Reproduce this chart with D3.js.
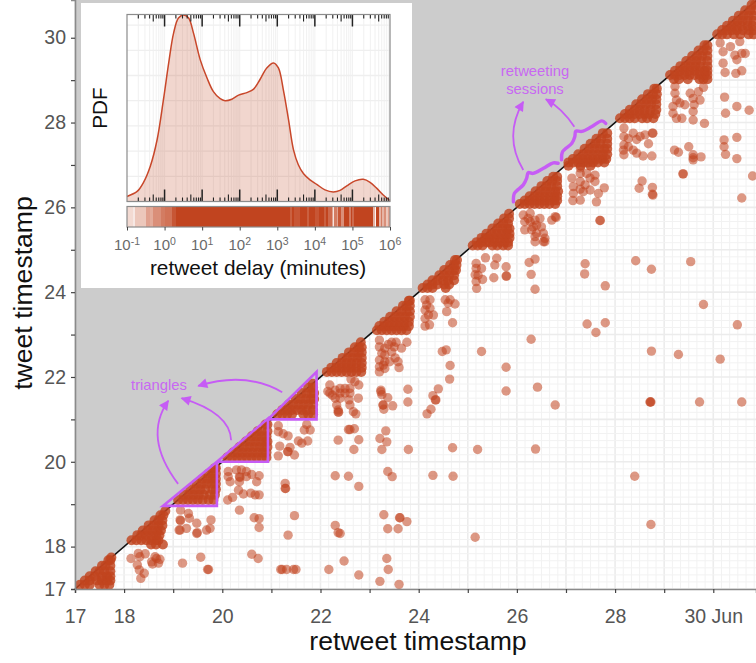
<!DOCTYPE html>
<html>
<head>
<meta charset="utf-8">
<script src="https://d3js.org/d3.v7.min.js"></script>
<style>
  html, body { margin: 0; padding: 0; background: #fff; }
  svg { display: block; font-family: "Liberation Sans", Arimo, Helvetica, sans-serif; }
</style>
</head>
<body>
<div id="chart-area"></div>
<script>
// tick labels
var dayTicks = [17, 18, 19, 20, 21, 22, 23, 24, 25, 26, 27, 28, 29, 30];
var dayLabels = ['17', '18', '', '20', '', '22', '', '24', '', '26', '', '28', '', '30 Jun'];
var dayLabelsY = ['17', '18', '', '20', '', '22', '', '24', '', '26', '', '28', '', '30'];
var decadeExponents = [-1, 0, 1, 2, 3, 4, 5, 6];

// each row: tweet timestamp, then the retweet timestamps of that tweet
var session17 = [[17.1, 17.1, 17.2, 17.3, 17.5, 17.6, 17.7], [17.2, 17.2, 17.3, 17.45, 17.55, 17.65, 17.72], [17.3, 17.3, 17.4, 17.55, 17.65, 17.72], [17.42, 17.42, 17.5, 17.6, 17.72], [17.55, 17.55, 17.62, 17.72], [17.68, 17.68, 17.72], [17.74, 17.74]];
var session18 = [[18.15, 18.15, 18.25, 18.35, 18.45, 18.55, 18.65, 18.7], [18.27, 18.27, 18.35, 18.45, 18.55, 18.65, 18.72], [18.38, 18.38, 18.48, 18.58, 18.68, 18.75], [18.5, 18.5, 18.6, 18.7, 18.78], [18.62, 18.62, 18.7, 18.78], [18.74, 18.74, 18.8], [18.84, 18.84], [18.05, 18.55, 18.65, 18.79]];
var session19 = [[19.1, 19.1, 19.2, 19.3, 19.4, 19.5, 19.6, 19.72, 19.82], [19.22, 19.22, 19.32, 19.42, 19.52, 19.62, 19.75, 19.85], [19.35, 19.35, 19.45, 19.55, 19.65, 19.8, 19.87], [19.48, 19.48, 19.58, 19.68, 19.78, 19.87], [19.6, 19.6, 19.7, 19.8, 19.87], [19.72, 19.72, 19.8, 19.87], [19.85, 19.85, 19.87]];
var session20 = [[20.1, 20.1, 20.2, 20.3, 20.4, 20.5, 20.6, 20.7, 20.8, 20.9], [20.22, 20.22, 20.32, 20.42, 20.52, 20.62, 20.72, 20.82, 20.9], [20.35, 20.35, 20.45, 20.55, 20.65, 20.75, 20.85, 20.92], [20.48, 20.48, 20.58, 20.68, 20.78, 20.88, 20.92], [20.6, 20.6, 20.7, 20.8, 20.9], [20.72, 20.72, 20.8, 20.92], [20.88, 20.88, 20.92]];
var session21 = [[21.12, 21.12, 21.22, 21.32, 21.42, 21.65, 21.75, 21.85], [21.22, 21.22, 21.32, 21.42, 21.52, 21.62, 21.72, 21.85], [21.35, 21.35, 21.45, 21.55, 21.65, 21.75, 21.85], [21.48, 21.5, 21.6, 21.7, 21.8, 21.87], [21.62, 21.62, 21.72, 21.82, 21.87], [21.75, 21.75, 21.85], [21.84, 21.84]];
var session22 = [[22.12, 22.13, 22.23, 22.33, 22.43, 22.53, 22.63, 22.73, 22.83], [22.22, 22.22, 22.32, 22.42, 22.52, 22.62, 22.72, 22.84], [22.33, 22.33, 22.43, 22.53, 22.63, 22.73, 22.84], [22.45, 22.45, 22.55, 22.65, 22.75, 22.84], [22.58, 22.58, 22.68, 22.78, 22.84], [22.7, 22.7, 22.78, 22.84], [22.82, 22.82]];
var session23 = [[23.1, 23.15, 23.25, 23.35, 23.45, 23.55, 23.65, 23.75], [23.2, 23.2, 23.3, 23.4, 23.5, 23.6, 23.7, 23.8], [23.3, 23.3, 23.4, 23.5, 23.6, 23.7, 23.8], [23.42, 23.42, 23.52, 23.62, 23.72, 23.82], [23.55, 23.55, 23.65, 23.75, 23.82], [23.68, 23.68, 23.75, 23.82], [23.8, 23.8, 23.82]];
var session24 = [[24.1, 24.08, 24.18, 24.28, 24.55], [24.18, 24.18, 24.28, 24.38, 24.52, 24.62], [24.28, 24.28, 24.38, 24.5, 24.6, 24.72], [24.4, 24.42, 24.52, 24.62, 24.72], [24.52, 24.52, 24.62, 24.72, 24.76], [24.64, 24.64, 24.72, 24.77], [24.76, 24.74, 24.78]];
var session25 = [[25.1, 25.1, 25.2, 25.3, 25.5, 25.6, 25.72, 25.82], [25.18, 25.18, 25.28, 25.38, 25.45, 25.55, 25.65, 25.75, 25.82], [25.28, 25.28, 25.36, 25.45, 25.55, 25.65, 25.75, 25.85], [25.38, 25.38, 25.48, 25.58, 25.68, 25.78, 25.85], [25.5, 25.5, 25.6, 25.7, 25.8, 25.85], [25.62, 25.62, 25.72, 25.82], [25.74, 25.74, 25.84], [25.85, 25.84]];
var session26 = [[26.08, 26.06, 26.16, 26.26, 26.36, 26.46, 26.56, 26.66, 26.78], [26.16, 26.16, 26.26, 26.36, 26.46, 26.56, 26.66, 26.76, 26.82], [26.26, 26.26, 26.36, 26.46, 26.56, 26.66, 26.76, 26.82], [26.38, 26.38, 26.48, 26.58, 26.68, 26.78, 26.84], [26.5, 26.5, 26.6, 26.7, 26.82], [26.62, 26.62, 26.72, 26.82], [26.72, 26.74, 26.82]];
var session27 = [[26.98, 27.05, 27.3, 27.5], [27.06, 27.05, 27.15, 27.25, 27.35, 27.45, 27.55, 27.65, 27.78], [27.14, 27.14, 27.24, 27.34, 27.44, 27.54, 27.64, 27.74, 27.82], [27.25, 27.25, 27.35, 27.45, 27.55, 27.65, 27.75, 27.84], [27.38, 27.38, 27.48, 27.58, 27.68, 27.78, 27.84], [27.5, 27.5, 27.6, 27.7, 27.84], [27.62, 27.62, 27.72, 27.84], [27.75, 27.75, 27.84]];
var session28 = [[28.1, 28.1, 28.2, 28.3, 28.4, 28.55, 28.65, 28.78], [28.2, 28.2, 28.3, 28.4, 28.5, 28.6, 28.7, 28.82], [28.3, 28.3, 28.4, 28.5, 28.6, 28.72, 28.84], [28.43, 28.43, 28.53, 28.63, 28.73, 28.84], [28.55, 28.55, 28.65, 28.75, 28.84], [28.67, 28.67, 28.77, 28.85], [28.8, 28.8, 28.85]];
var session29 = [[29.02, 29.2, 29.3, 29.48, 29.72, 29.8, 29.88], [29.12, 29.12, 29.22, 29.32, 29.42, 29.52, 29.62, 29.72, 29.82, 29.88], [29.22, 29.22, 29.32, 29.42, 29.52, 29.62, 29.72, 29.82, 29.88], [29.33, 29.33, 29.43, 29.53, 29.63, 29.73, 29.88], [29.45, 29.45, 29.55, 29.65, 29.75, 29.88], [29.57, 29.57, 29.67, 29.77, 29.88], [29.7, 29.7, 29.8, 29.88], [29.82, 29.82, 29.88]];
var session30 = [[30.08, 30.08, 30.18, 30.28, 30.42, 30.55, 30.72, 30.82], [30.18, 30.18, 30.28, 30.38, 30.48, 30.6, 30.72, 30.82], [30.28, 30.28, 30.38, 30.48, 30.58, 30.7, 30.8], [30.4, 30.4, 30.5, 30.6, 30.7, 30.82], [30.52, 30.52, 30.62, 30.72, 30.82], [30.65, 30.65, 30.75, 30.85], [30.78, 30.78, 30.85]];

// [retweet timestamp, tweet timestamp] for the retweets far from their tweet
var lateRetweets = [
  [18.14, 17.72], [18.29, 17.84], [18.32, 17.76], [18.43, 17.83], [18.27, 17.57], [18.31, 17.45], [18.41, 17.37], [18.34, 17.25], [18.56, 17.64], [18.66, 17.72], [18.73, 17.7], [18.7, 17.61], [18.58, 17.59], [18.63, 17.76],
  [19.19, 17.61], [19.56, 17.75], [19.7, 17.46], [19.72, 17.46], [20.6, 17.82], [20.73, 17.72], [21.19, 17.46], [21.22, 17.46], [21.31, 17.46], [21.45, 17.46], [21.5, 17.46], [22.17, 17.46], [22.48, 17.66], [22.78, 17.33], [23.35, 17.72], [23.38, 17.46], [23.21, 17.18], [23.6, 17.11],
  [19.15, 18.86], [19.14, 18.63], [19.15, 18.61], [19.12, 18.39], [19.14, 18.39], [19.31, 18.78], [19.33, 18.67], [19.48, 18.55], [19.48, 18.31], [19.49, 18.33], [19.27, 18.43], [19.68, 18.39], [19.75, 18.43], [19.77, 18.63],
  [20.35, 18.86], [20.65, 18.68], [20.75, 18.66], [20.75, 18.45], [21.47, 18.73], [21.34, 18.27], [22.3, 18.5], [22.36, 18.33], [22.4, 18.31], [23.29, 18.75], [23.61, 18.68], [23.62, 18.68], [23.76, 18.59], [23.37, 18.42], [23.58, 18.42], [25.15, 18.22], [28.73, 18.52],
  [20.12, 19.77], [20.12, 19.65], [20.16, 19.53], [20.29, 19.81], [20.39, 19.81], [20.49, 19.77], [20.35, 19.65], [20.36, 19.63], [20.49, 19.65], [20.6, 19.7], [20.75, 19.67], [20.7, 19.53], [20.35, 19.53], [20.33, 19.33], [20.43, 19.24], [20.58, 19.26], [20.67, 19.22], [20.75, 19.22], [20.21, 19.16], [20.11, 19.1],
  [21.28, 19.49], [21.28, 19.37], [21.29, 19.37], [22.3, 19.67], [22.57, 19.66], [22.78, 19.42], [23.37, 19.77], [23.46, 19.65], [24.29, 19.68], [24.7, 19.66], [28.4, 19.66],
  [21.14, 20.85], [21.14, 20.71], [21.24, 20.66], [21.34, 20.61], [21.17, 20.37], [21.14, 20.14], [21.38, 20.34], [21.33, 20.24], [21.34, 20.24], [21.47, 20.16], [21.55, 20.49], [21.62, 20.44], [21.74, 20.49], [21.67, 20.75], [21.79, 20.75], [21.72, 20.88],
  [22.36, 20.51], [22.78, 20.52], [23.21, 20.55], [23.35, 20.47], [23.33, 20.73], [22.57, 20.76], [22.6, 20.76], [22.69, 20.78], [22.68, 20.29], [23.25, 20.29], [23.79, 20.29], [24.69, 20.33], [25.2, 20.29], [26.38, 20.3],
  [22.19, 21.81], [22.19, 21.62], [22.3, 21.69], [22.4, 21.73], [22.5, 21.73], [22.6, 21.73], [22.4, 21.62], [22.5, 21.62], [22.6, 21.62], [22.3, 21.5], [22.4, 21.5], [22.58, 21.46], [22.33, 21.34], [22.36, 21.22], [22.36, 21.17], [22.37, 21.17], [22.6, 21.34], [22.67, 21.18], [22.72, 21.13], [22.77, 21.5], [22.78, 21.81], [22.7, 21.89], [22.62, 21.95], [22.24, 21.57], [22.15, 21.66],
  [23.23, 21.69], [23.23, 21.65], [23.25, 21.58], [23.37, 21.51], [23.27, 21.34], [23.28, 21.34], [23.29, 21.24], [23.47, 21.32], [23.78, 21.71], [23.78, 21.41], [24.29, 21.56], [24.34, 21.46], [24.35, 21.46], [24.4, 21.72], [24.25, 21.24], [24.17, 21.13], [24.63, 21.95], [25.78, 21.67], [26.42, 21.76], [26.78, 21.34], [28.71, 21.41], [28.72, 21.41], [28.73, 21.41], [29.72, 21.41], [30.58, 21.41],
  [23.2, 22.87], [23.2, 22.71], [23.25, 22.56], [23.2, 22.4], [23.2, 22.24], [23.2, 22.12], [23.31, 22.2], [23.31, 22.36], [23.31, 22.68], [23.45, 22.82], [23.54, 22.82], [23.5, 22.71], [23.65, 22.68], [23.76, 22.82], [23.45, 22.59], [23.52, 22.45], [23.58, 22.36], [23.6, 22.22], [23.41, 22.36], [23.38, 22.77], [23.31, 22.52], [23.28, 22.28],
  [24.48, 22.6], [24.56, 22.64], [25.28, 22.6], [24.64, 22.27], [25.78, 22.23], [26.29, 22.89], [28.74, 22.61], [29.29, 22.53], [30.14, 22.42],
  [24.13, 23.82], [24.23, 23.82], [24.16, 23.7], [24.23, 23.62], [24.13, 23.58], [24.2, 23.46], [24.13, 23.38], [24.3, 23.46], [24.13, 23.2], [24.22, 23.23], [24.54, 23.82], [24.64, 23.82], [24.6, 23.74], [24.74, 23.72], [24.57, 23.54], [24.69, 23.28], [27.43, 23.25], [27.8, 23.28], [27.61, 23.05], [29.8, 23.71], [30.49, 23.23],
  [25.17, 24.68], [25.17, 24.56], [25.15, 24.41], [25.17, 24.25], [25.18, 24.09], [25.28, 24.56], [25.3, 24.3], [25.36, 24.81], [25.59, 24.8], [25.55, 24.64], [25.53, 24.34], [25.78, 24.6], [25.78, 24.38], [25.79, 24.38], [25.21, 24.4],
  [26.25, 24.7], [26.37, 24.78], [26.29, 24.42], [26.37, 24.07], [27.39, 24.67], [27.38, 24.43], [27.8, 24.15], [28.42, 24.74], [28.74, 24.54], [29.54, 24.72],
  [26.13, 25.82], [26.27, 25.86], [26.16, 25.66], [26.16, 25.47], [26.27, 25.66], [26.37, 25.7], [26.47, 25.74], [26.4, 25.58], [26.5, 25.54], [26.3, 25.47], [26.4, 25.39], [26.54, 25.39], [26.37, 25.19], [26.54, 25.19], [26.78, 25.78], [26.8, 25.76], [26.71, 25.7], [26.23, 25.74], [26.33, 25.54], [26.57, 25.27], [26.37, 25.31], [26.57, 25.19],
  [27.69, 25.69], [27.7, 25.69],
  [27.29, 26.8], [27.12, 26.69], [27.59, 26.76], [27.49, 26.69], [27.59, 26.61], [27.29, 26.61], [27.39, 26.53], [27.15, 26.49], [27.15, 26.33], [27.14, 26.16], [27.29, 26.17], [27.35, 26.37], [27.49, 26.41], [27.66, 26.33], [27.62, 26.13], [27.78, 26.46], [27.42, 26.8], [27.29, 26.43], [27.29, 26.93],
  [28.49, 26.45], [28.55, 26.62], [28.76, 26.47], [28.76, 26.31], [28.77, 26.29], [29.38, 26.79], [29.39, 26.79], [30.8, 26.74], [30.58, 26.22],
  [28.18, 27.87], [28.18, 27.67], [28.18, 27.47], [28.18, 27.24], [28.27, 27.43], [28.37, 27.75], [28.51, 27.67], [28.61, 27.71], [28.76, 27.75], [28.77, 27.75], [28.68, 27.5], [28.37, 27.35], [28.44, 27.28], [28.57, 27.21], [28.75, 27.21], [28.27, 27.62], [28.44, 27.6], [28.17, 27.35],
  [29.21, 27.35], [29.29, 27.3], [29.5, 27.43], [29.59, 27.24], [29.59, 27.17], [29.59, 27.12], [29.75, 27.19], [30.22, 27.59], [30.22, 27.43], [30.25, 27.25], [30.48, 27.65], [30.48, 27.15],
  [29.22, 28.85], [29.22, 28.69], [29.25, 28.53], [29.18, 28.38], [29.18, 28.22], [29.25, 28.1], [29.36, 28.1], [29.42, 28.42], [29.53, 28.69], [29.59, 28.57], [29.61, 28.42], [29.59, 28.26], [29.59, 28.06], [29.8, 28.83], [29.73, 28.53], [29.82, 27.98], [29.7, 28.73], [29.32, 28.46],
  [30.23, 28.6], [30.25, 28.22], [30.48, 28.38], [30.73, 28.29],
  [30.14, 29.88], [30.2, 29.67], [30.2, 29.4], [30.24, 29.18], [30.35, 29.79], [30.44, 29.59], [30.48, 29.48], [30.58, 29.63], [30.65, 29.63], [30.58, 29.22], [30.46, 29.16], [30.54, 29.91]
];

// retweet delay density, log10(minutes) and PDF
var delayLog = [-1, -0.73, -0.56, -0.38, -0.2, -0.03, 0.11, 0.24, 0.37, 0.51, 0.64, 0.77, 0.95, 1.13, 1.3, 1.48, 1.61, 1.79, 1.97, 2.19, 2.37, 2.54, 2.72, 2.9, 3.03, 3.16, 3.3, 3.43, 3.56, 3.7, 3.87, 4.05, 4.27, 4.49, 4.67, 4.85, 5.07, 5.29, 5.47, 5.65, 5.82, 6];
var delayPdf = [0.01, 0.02, 0.038, 0.07, 0.122, 0.202, 0.275, 0.334, 0.364, 0.37, 0.364, 0.334, 0.281, 0.245, 0.218, 0.204, 0.2, 0.203, 0.211, 0.216, 0.223, 0.242, 0.265, 0.275, 0.265, 0.222, 0.162, 0.103, 0.073, 0.055, 0.043, 0.034, 0.023, 0.019, 0.022, 0.031, 0.041, 0.044, 0.038, 0.026, 0.013, 0.002];

// rug strip under the density: band start (log10 minutes) and its strength
var rugStart = [-1, -0.85, -0.78, -0.6, -0.5, -0.4, -0.3, -0.1, 0, 0.2, 0.3, 3.35, 3.4, 3.45, 3.6, 3.8, 3.85, 4, 4.1, 4.25, 4.3, 4.35, 4.45, 4.48, 4.5, 4.58, 4.62, 4.7, 4.78, 4.9, 4.95, 5, 5.05, 5.55, 5.6, 5.63, 5.7, 5.75, 5.8, 5.85, 5.9, 5.95];
var rugAlpha = [0.2, 0.12, 0.3, 0.3, 0.5, 0.45, 0.6, 0.7, 0.75, 0.9, 1, 0.85, 1, 0.9, 1, 0.85, 1, 0.9, 1, 0.85, 1, 0.8, 0.5, 0.15, 0.7, 0.5, 0.9, 0.6, 1, 0.7, 1, 0.8, 1, 0.4, 0.05, 1, 0.4, 0.7, 0.4, 0.6, 0.3, 0.5];

// annotations, in [retweet day, tweet day]
var triangleLeft = [18.79, 19.89, 20.93];
var triangleRight = [19.89, 20.93, 21.92];
var triangleBottom = [18.96, 20, 21];
var triangleTop = [20, 21.02, 22.12];
var triangleArrows = [
  [[19.1, 19.48], [18.38, 20.58], [18.9, 21.44]],
  [[20.18, 20.51], [20.16, 21.15], [19.17, 21.5]],
  [[21.22, 21.64], [20.48, 22.14], [19.51, 21.79]]
];
var sessionArrows = [
  [[26.13, 26.88], [25.72, 27.68], [26.13, 28.49]],
  [[27.17, 27.9], [26.92, 28.34], [26.59, 28.55]]
];
var braceA = [[25.93, 26.13], [25.95, 26.33], [26.13, 26.53], [26.2, 26.69], [26.23, 26.82], [26.33, 26.8], [26.54, 26.92], [26.74, 27.05], [26.84, 27.04]];
var braceB = [[26.91, 27.12], [26.93, 27.31], [27.12, 27.51], [27.18, 27.67], [27.2, 27.8], [27.32, 27.79], [27.52, 27.9], [27.73, 28.04], [27.81, 27.98]];

var sessions = [session17, session18, session19, session20, session21, session22, session23, session24, session25, session26, session27, session28, session29, session30];

var red = '#c1441f';
var purple = '#c65cf5';
var purpleText = '#c868f2';

var margin = { left: 75, right: 0, top: 0, bottom: 74 };
var width = 756 - margin.left - margin.right;
var height = 663 - margin.top - margin.bottom;

var svg = d3.select('#chart-area')
  .append('svg')
    .attr('width', 756)
    .attr('height', 663);

var defs = svg.append('defs');
defs.append('clipPath').attr('id', 'panel-clip')
  .append('rect').attr('width', width).attr('height', height);
defs.append('marker')
    .attr('id', 'head')
    .attr('viewBox', '0 0 10 10')
    .attr('refX', 9)
    .attr('refY', 5)
    .attr('markerUnits', 'userSpaceOnUse')
    .attr('markerWidth', 11)
    .attr('markerHeight', 10)
    .attr('orient', 'auto')
  .append('path')
    .attr('d', 'M0,0L10,5L0,10Z')
    .attr('fill', purple);

var area = svg.append('g')
  .attr('transform', 'translate(' + margin.left + ', ' + margin.top + ')');

// X Scale
var x = d3.scaleLinear().domain([17, 30.87]).range([0, width]);
// Y Scale
var y = d3.scaleLinear().domain([17, 30.89]).range([height, 0]);

// 4 hour grid, heavier each day
var fineX = d3.range(17, 31, 1 / 6);
var fineY = d3.range(17, 31, 1 / 6);

area.selectAll('.grid-x').data(fineX).enter().append('line')
  .attr('class', 'grid-x')
  .attr('x1', function(d) { return x(d); })
  .attr('x2', function(d) { return x(d); })
  .attr('y1', 0)
  .attr('y2', height)
  .attr('stroke', function(d, i) { return i % 6 === 0 ? '#ececec' : '#f2f2f2'; })
  .attr('stroke-width', function(d, i) { return i % 6 === 0 ? 1.6 : 1; });

area.selectAll('.grid-y').data(fineY).enter().append('line')
  .attr('class', 'grid-y')
  .attr('x1', 0)
  .attr('x2', width)
  .attr('y1', function(d) { return y(d); })
  .attr('y2', function(d) { return y(d); })
  .attr('stroke', function(d, i) { return i % 6 === 0 ? '#ececec' : '#f2f2f2'; })
  .attr('stroke-width', function(d, i) { return i % 6 === 0 ? 1.6 : 1; });

// grey half above the diagonal
area.append('path')
  .attr('d', 'M' + x(17) + ',' + y(17) + 'L' + x(30.87) + ',' + y(30.87) + 'L' + x(30.87) + ',0L' + x(17) + ',0Z')
  .attr('fill', '#cccccc');

area.append('line')
  .attr('x1', x(17)).attr('y1', y(17))
  .attr('x2', x(30.87)).attr('y2', y(30.87))
  .attr('stroke', '#111')
  .attr('stroke-width', 1.6);

// points
var points = [];
sessions.forEach(function(rows) {
  rows.forEach(function(row) {
    row.slice(1).forEach(function(rt) { points.push([rt, row[0]]); });
  });
});

var pointLayer = area.append('g').attr('clip-path', 'url(#panel-clip)');

pointLayer.selectAll('.session-dot')
  .data(points)
  .enter().append('circle')
    .attr('class', 'session-dot')
    .attr('cx', function(d) { return x(d[0]); })
    .attr('cy', function(d) { return y(d[1]); })
    .attr('r', 5)
    .attr('fill', red)
    .attr('fill-opacity', 0.82);

pointLayer.selectAll('.late-dot')
  .data(lateRetweets)
  .enter().append('circle')
    .attr('class', 'late-dot')
    .attr('cx', function(d) { return x(d[0]); })
    .attr('cy', function(d) { return y(d[1]); })
    .attr('r', 4.7)
    .attr('fill', red)
    .attr('fill-opacity', 0.55);

// axes
function styleAxis(g) {
  g.select('.domain').attr('stroke', '#8a8a8a').attr('stroke-width', 1.6);
  g.selectAll('.tick line').attr('stroke', '#444').attr('stroke-width', 1.2);
  g.selectAll('.tick text')
    .attr('fill', '#555')
    .attr('font-size', '19.5px')
    .attr('font-family', '"Liberation Sans", sans-serif');
}

var xAxisCall = d3.axisBottom(x)
  .tickValues(dayTicks)
  .tickSizeOuter(0)
  .tickSize(4)
  .tickPadding(16)
  .tickFormat(function(d, i) { return dayLabels[i]; });
area.append('g')
  .attr('transform', 'translate(0, ' + height + ')')
  .call(xAxisCall)
  .call(styleAxis);

var yAxisCall = d3.axisLeft(y)
  .tickValues(dayTicks)
  .tickSizeOuter(0)
  .tickSize(4)
  .tickPadding(5)
  .tickFormat(function(d, i) { return dayLabelsY[i]; });
area.append('g')
  .call(yAxisCall)
  .call(styleAxis);

svg.append('text')
  .attr('x', 418)
  .attr('y', 650)
  .attr('text-anchor', 'middle')
  .attr('font-size', '26.6px')
  .attr('fill', '#111')
  .text('retweet timestamp');

svg.append('text')
  .attr('transform', 'translate(32, 293) rotate(-90)')
  .attr('text-anchor', 'middle')
  .attr('font-size', '26.6px')
  .attr('fill', '#111')
  .text('tweet timestamp');

// annotations
var annotations = area.append('g').attr('fill', 'none');

var trianglePath = d3.path();
triangleLeft.forEach(function(d, i) {
  trianglePath.moveTo(x(d), y(triangleBottom[i]));
  trianglePath.lineTo(x(triangleRight[i]), y(triangleTop[i]));
  trianglePath.lineTo(x(triangleRight[i]), y(triangleBottom[i]));
  trianglePath.closePath();
});
annotations.append('path')
  .attr('d', trianglePath.toString())
  .attr('stroke', purple)
  .attr('stroke-width', 2.6)
  .attr('stroke-linejoin', 'miter');

annotations.selectAll('.arrow')
  .data(triangleArrows.concat(sessionArrows))
  .enter().append('path')
    .attr('class', 'arrow')
    .attr('d', function(d) {
      var p = d3.path();
      p.moveTo(x(d[0][0]), y(d[0][1]));
      p.quadraticCurveTo(x(d[1][0]), y(d[1][1]), x(d[2][0]), y(d[2][1]));
      return p.toString();
    })
    .attr('stroke', purple)
    .attr('stroke-width', 1.8)
    .attr('marker-end', 'url(#head)');

var braceLine = d3.line()
  .x(function(d) { return x(d[0]); })
  .y(function(d) { return y(d[1]); })
  .curve(d3.curveCatmullRom);

annotations.selectAll('.brace')
  .data([braceA, braceB])
  .enter().append('path')
    .attr('class', 'brace')
    .attr('d', braceLine)
    .attr('stroke', purple)
    .attr('stroke-width', 3.4)
    .attr('stroke-linecap', 'round');

svg.append('text')
  .attr('x', 159)
  .attr('y', 390)
  .attr('text-anchor', 'middle')
  .attr('font-size', '14.8px')
  .attr('fill', purpleText)
  .text('triangles');

var sessionLabel = svg.append('text')
  .attr('text-anchor', 'middle')
  .attr('font-size', '14.8px')
  .attr('fill', purpleText);
sessionLabel.append('tspan').attr('x', 535).attr('y', 76).text('retweeting');
sessionLabel.append('tspan').attr('x', 535).attr('y', 94).text('sessions');

// inset
svg.append('rect')
  .attr('x', 81)
  .attr('y', 3)
  .attr('width', 331)
  .attr('height', 285)
  .attr('fill', '#fff');

var insetW = 263;
var insetH = 187;
var inset = svg.append('g').attr('transform', 'translate(127, 14.5)');

var lx = d3.scaleLinear().domain([-1, 6]).range([0, insetW]);
var ly = d3.scaleLinear().domain([0, 0.371]).range([insetH, 0]);

var minorLogs = [];
decadeExponents.slice(0, -1).forEach(function(e) {
  d3.range(2, 11).forEach(function(m) {
    minorLogs.push({ pos: e + Math.log10(m), m: m, e: e + 1 });
  });
});

inset.selectAll('.lgrid').data(minorLogs).enter().append('line')
  .attr('class', 'lgrid')
  .attr('x1', function(d) { return lx(d.pos); })
  .attr('x2', function(d) { return lx(d.pos); })
  .attr('y1', 0)
  .attr('y2', insetH)
  .attr('stroke', '#f2f2f2')
  .attr('stroke-width', 1.1);

inset.selectAll('.pgrid').data(ly.ticks(7)).enter().append('line')
  .attr('class', 'pgrid')
  .attr('x1', 0)
  .attr('x2', insetW)
  .attr('y1', function(d) { return ly(d); })
  .attr('y2', function(d) { return ly(d); })
  .attr('stroke', '#efefef')
  .attr('stroke-width', 1.3);

var delay = delayLog.map(function(d, i) { return [d, delayPdf[i]]; });

inset.append('path')
  .attr('d', d3.area()
    .x(function(d) { return lx(d[0]); })
    .y0(ly(0))
    .y1(function(d) { return ly(d[1]); })
    .curve(d3.curveCatmullRom)(delay))
  .attr('fill', red)
  .attr('fill-opacity', 0.22);

inset.append('path')
  .attr('d', d3.line()
    .x(function(d) { return lx(d[0]); })
    .y(function(d) { return ly(d[1]); })
    .curve(d3.curveCatmullRom)(delay))
  .attr('fill', 'none')
  .attr('stroke', '#c8472a')
  .attr('stroke-width', 1.5);

// log ticks along both edges
function tickLen(d) { return d.m === 10 ? 12 : (d.m === 5 ? 7 : 4); }
function tickWidth(d) { return d.m === 10 ? 1.5 : 1.1; }
var edgeTicks = minorLogs.filter(function(d) { return d.pos < 5.99; });

inset.selectAll('.top-tick').data(edgeTicks).enter().append('line')
  .attr('class', 'top-tick')
  .attr('x1', function(d) { return lx(d.pos); })
  .attr('x2', function(d) { return lx(d.pos); })
  .attr('y1', 0)
  .attr('y2', tickLen)
  .attr('stroke', '#222')
  .attr('stroke-width', tickWidth);

inset.selectAll('.bottom-tick').data(edgeTicks).enter().append('line')
  .attr('class', 'bottom-tick')
  .attr('x1', function(d) { return lx(d.pos); })
  .attr('x2', function(d) { return lx(d.pos); })
  .attr('y1', insetH)
  .attr('y2', function(d) { return insetH - tickLen(d); })
  .attr('stroke', '#222')
  .attr('stroke-width', tickWidth);

inset.append('rect')
  .attr('width', insetW)
  .attr('height', insetH)
  .attr('fill', 'none')
  .attr('stroke', '#8c8c8c')
  .attr('stroke-width', 1.2);

// rug strip
var strip = inset.append('g').attr('transform', 'translate(0, 192)');
var stripH = 20.5;

strip.selectAll('rect').data(rugStart).enter().append('rect')
  .attr('x', function(d) { return Math.round(lx(d)); })
  .attr('y', 0)
  .attr('width', function(d, i) {
    var next = i < rugStart.length - 1 ? rugStart[i + 1] : 6;
    return Math.round(lx(next)) - Math.round(lx(d));
  })
  .attr('height', stripH)
  .attr('shape-rendering', 'crispEdges')
  .attr('fill', red)
  .attr('fill-opacity', function(d, i) { return rugAlpha[i]; });

strip.append('rect')
  .attr('class', 'strip-frame')
  .attr('width', insetW)
  .attr('height', stripH)
  .attr('fill', 'none')
  .attr('stroke', '#8c8c8c')
  .attr('stroke-width', 1.2);

var logAxisCall = d3.axisBottom(lx)
  .tickValues(decadeExponents)
  .tickSizeOuter(0)
  .tickSize(3.5)
  .tickFormat('');
strip.append('g')
  .attr('transform', 'translate(0, ' + stripH + ')')
  .call(logAxisCall)
  .call(function(g) {
    g.select('.domain').remove();
    g.selectAll('.tick line').attr('stroke', '#444');
  });

var decadeText = strip.selectAll('.decade').data(decadeExponents).enter().append('text')
  .attr('class', 'decade')
  .attr('x', function(d) { return lx(d); })
  .attr('y', 43.5)
  .attr('text-anchor', 'middle')
  .attr('fill', '#6a6a6a')
  .attr('font-size', '15px');
decadeText.append('tspan').text('10');
decadeText.append('tspan')
  .attr('dy', -5.5)
  .attr('font-size', '10.5px')
  .text(function(d) { return d; });

svg.append('text')
  .attr('x', 258)
  .attr('y', 275)
  .attr('text-anchor', 'middle')
  .attr('font-size', '20.8px')
  .attr('fill', '#111')
  .text('retweet delay (minutes)');

svg.append('text')
  .attr('transform', 'translate(107, 108) rotate(-90)')
  .attr('text-anchor', 'middle')
  .attr('font-size', '20.7px')
  .attr('fill', '#111')
  .text('PDF');
</script>
</body>
</html>
